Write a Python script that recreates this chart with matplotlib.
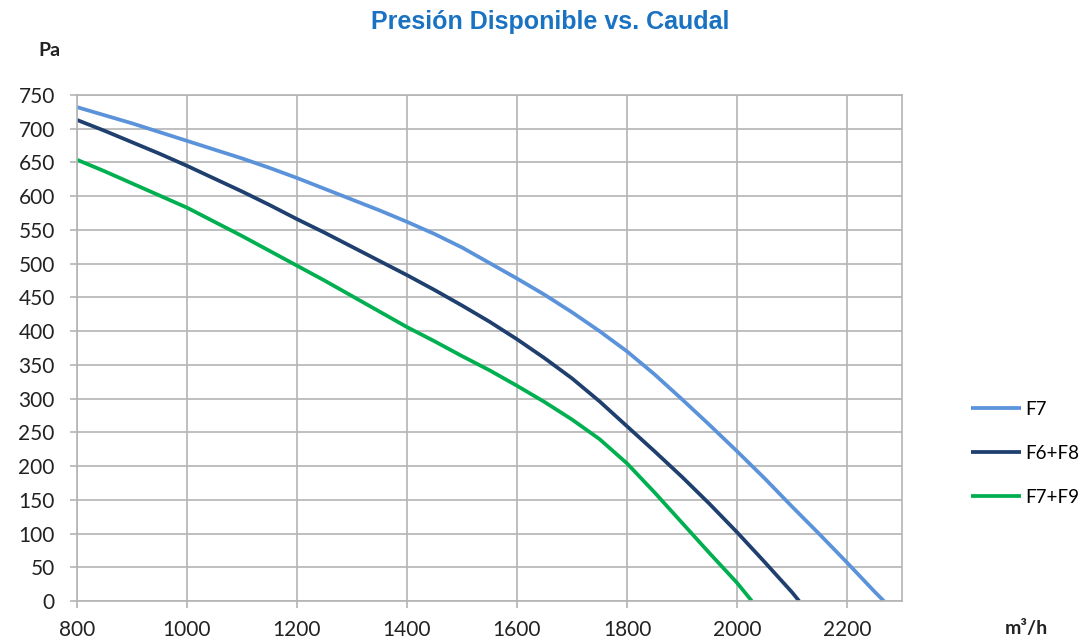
import matplotlib
matplotlib.use('Agg')
import matplotlib.pyplot as plt

# caudal (m3/h) y presion disponible (Pa)
x_f7 = [800, 850, 900, 950, 1000, 1050, 1100, 1150, 1200, 1250, 1300, 1350, 1400, 1450,
        1500, 1550, 1600, 1650, 1700, 1750, 1800, 1850, 1900, 1950, 2000, 2050, 2100,
        2150, 2200, 2250, 2267]
y_f7 = [732, 720, 708, 695, 682, 669, 656, 642, 627, 611, 595, 579, 562, 544,
        524, 501, 478, 454, 428, 400, 370, 336, 299, 261, 222, 182, 140,
        99, 57, 14, 0]

x_f6f8 = [800, 850, 900, 950, 1000, 1050, 1100, 1150, 1200, 1250, 1300, 1350, 1400, 1450,
          1500, 1550, 1600, 1650, 1700, 1750, 1800, 1850, 1900, 1950, 2000, 2050, 2100, 2113]
y_f6f8 = [713, 697, 680, 663, 645, 626, 607, 587, 566, 546, 525, 504, 483, 461,
          438, 414, 388, 360, 330, 296, 259, 222, 184, 144, 102, 58, 13, 0]

x_f7f9 = [800, 850, 900, 950, 1000, 1050, 1100, 1150, 1200, 1250, 1300, 1350, 1400, 1450,
          1500, 1550, 1600, 1650, 1700, 1750, 1800, 1850, 1900, 1950, 2000, 2027]
y_f7f9 = [654, 637, 619, 601, 583, 562, 541, 519, 497, 475, 452, 429, 406, 385,
          363, 342, 319, 295, 269, 240, 204, 161, 116, 71, 27, 0]

x_ticks = [800, 1000, 1200, 1400, 1600, 1800, 2000, 2200]
y_ticks = list(range(0, 751, 50))

plt.rcParams['font.family'] = ['Lato', 'DejaVu Sans']

fig = plt.figure(figsize=(10.92, 6.43), dpi=100)
ax = fig.add_axes([0.0705, 0.0653, 0.7555, 0.787])

grid_c = '#b4b4b4'
ax.plot(x_f7, y_f7, color='#5b93db', lw=2.7, label='F7', solid_capstyle='butt')
ax.plot(x_f6f8, y_f6f8, color='#1f3f6e', lw=2.7, label='F6+F8', solid_capstyle='butt')
ax.plot(x_f7f9, y_f7f9, color='#00b050', lw=2.7, label='F7+F9', solid_capstyle='butt')

ax.set_xlim(800, 2300)
ax.set_ylim(0, 750)
ax.set_xticks(x_ticks)
ax.set_yticks(y_ticks)
ax.grid(True, color=grid_c, lw=1.2)
ax.set_axisbelow(True)
for s in ax.spines.values():
    s.set_color(grid_c)
    s.set_linewidth(1.2)
ax.tick_params(axis='both', direction='out', length=5, width=1.2, color=grid_c,
               labelsize=15, labelcolor='#222222')
ax.tick_params(axis='y', pad=11)
ax.tick_params(axis='x', pad=9)

fig.text(0.504, 0.966, 'Presión Disponible vs. Caudal', ha='center', va='center',
         fontsize=18, fontweight='bold', color='#1a72c2', family='Liberation Sans')
fig.text(0.035, 0.922, 'Pa', ha='left', va='center', fontsize=14,
         fontweight='bold', color='#222222')
fig.text(0.92, 0.022, 'm³/h', ha='left', va='center', fontsize=14,
         fontweight='bold', color='#222222')

ax.legend(loc='center left', bbox_to_anchor=(0.882, 0.295), bbox_transform=fig.transFigure,
          frameon=False, fontsize=13.5, handlelength=2.7, handletextpad=0.2,
          labelspacing=1.45, borderaxespad=0)

fig.savefig('out.png', dpi=100)
